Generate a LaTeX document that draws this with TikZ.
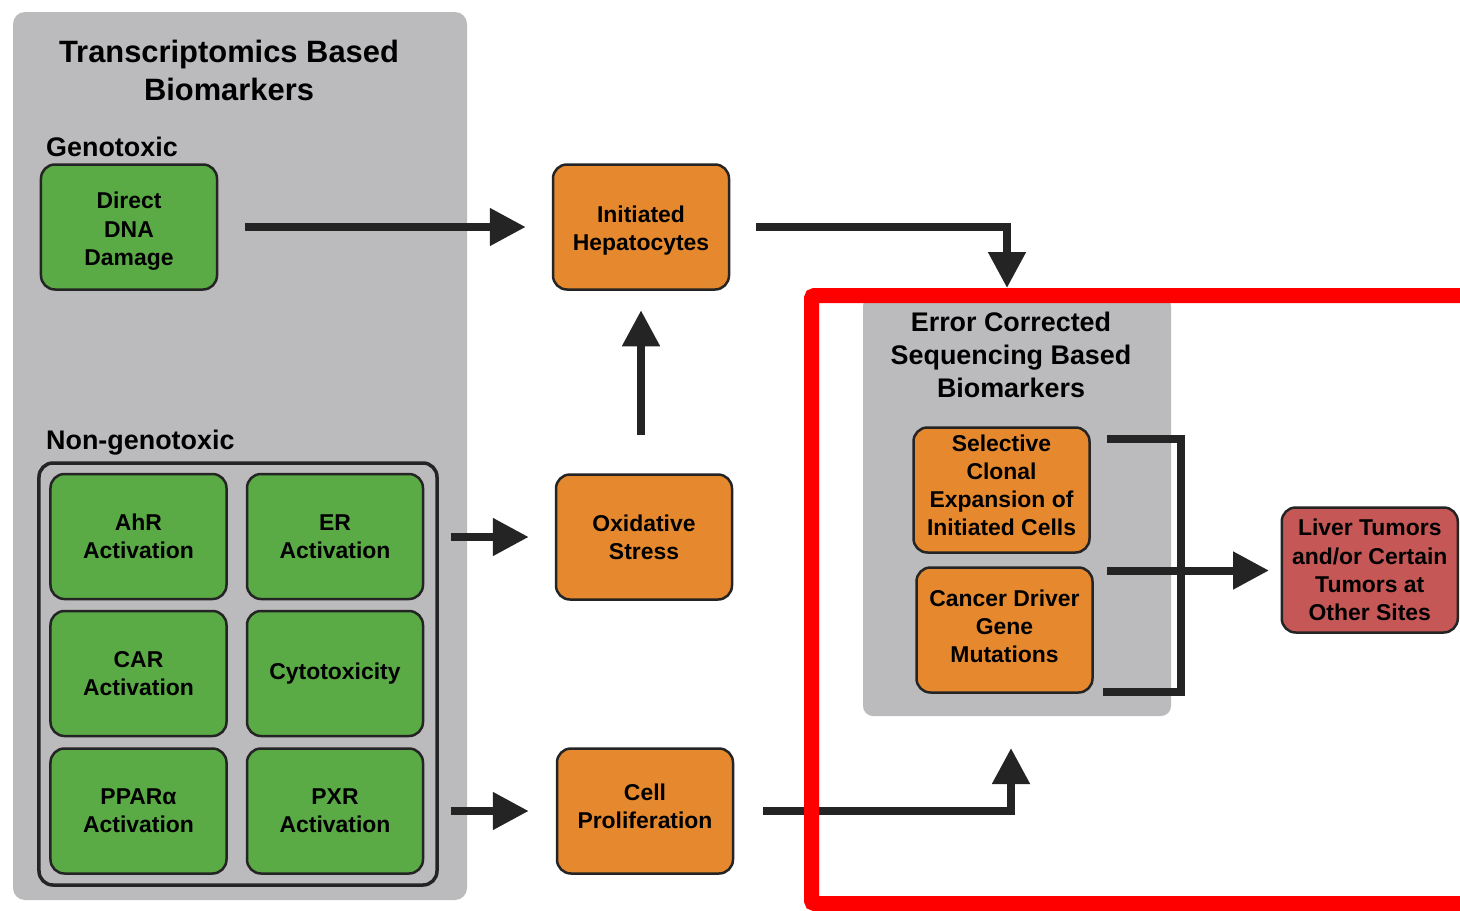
\documentclass[tikz,border=0pt]{standalone}
\usepackage{fontspec}
\setmainfont{Liberation Sans}
\usetikzlibrary{arrows.meta}

\definecolor{panelgray}{RGB}{187,187,189}
\definecolor{leafgreen}{RGB}{90,170,70}
\definecolor{amber}{RGB}{230,137,46}
\definecolor{tumorred}{RGB}{197,88,86}
\definecolor{ink}{RGB}{36,36,36}
\definecolor{alertred}{RGB}{255,0,0}

\tikzset{
  panel/.style={fill=panelgray, rounded corners=12bp},
  paneltitle/.style={inner sep=0pt, align=center, text=black},
  grouplabel/.style={inner sep=0pt, text=black, font=\bfseries\fontsize{27}{32}\selectfont},
  box/.style={draw=ink, line width=2.5bp, rounded corners=14bp,
    minimum width=176bp, minimum height=125bp, inner sep=0pt,
    align=center, text=black, font=\bfseries\fontsize{23}{28.3}\selectfont},
  greenbox/.style={box, fill=leafgreen},
  orangebox/.style={box, fill=amber},
  tumorbox/.style={box, fill=tumorred},
  groupframe/.style={draw=ink, line width=3.5bp, rounded corners=14bp,
    minimum width=398bp, minimum height=422bp, inner sep=0pt},
  flow/.style={draw=ink, line width=8bp, -{Triangle[length=36bp,width=36bp]}},
  bracketline/.style={draw=ink, line width=8bp},
  highlight/.style={draw=alertred, line width=15bp, rounded corners=3bp}
}

\begin{document}
\begin{tikzpicture}[x=1bp, y=-1bp]
  \useasboundingbox (0,0) rectangle (1460,910);
  \clip (0,0) rectangle (1460,910);

  % background panels
  \fill[panel] (13,12) rectangle (467,900);
  \fill[panel, rounded corners=10bp] (863,296) rectangle (1171,716);

  % transcriptomics panel
  \node[paneltitle, anchor=north, font=\bfseries\fontsize{31}{38}\selectfont]
    (ttitle) at (229,40) {Transcriptomics Based\\Biomarkers};
  \node[grouplabel, anchor=base west] (genolabel) at (46,156) {Genotoxic};
  \node[grouplabel, anchor=base west] (nongenolabel) at (46,449) {Non-genotoxic};

  \node[greenbox] (dna) at (129,227) {\rule{0pt}{25bp}Direct\\DNA\\Damage};

  \node[groupframe] (nongeno) at (238,674) {};
  \node[greenbox] (ahr) at (138.5,536.5) {AhR\\Activation};
  \node[greenbox] (er)  at (335,536.5) {ER\\Activation};
  \node[greenbox] (car) at (138.5,673.5) {CAR\\Activation};
  \node[greenbox] (cyto) at (335,673.5) {Cytotoxicity};
  \node[greenbox] (ppar) at (138.5,811) {PPARα\\Activation};
  \node[greenbox] (pxr) at (335,811) {PXR\\Activation};

  % key events
  \node[orangebox] (init) at (641,227) {\rule{0pt}{24bp}Initiated\\Hepatocytes};
  \node[orangebox] (ox) at (644,537) {Oxidative\\Stress};
  \node[orangebox] (cp) at (645,811) {Cell\\Proliferation\rule[-9bp]{0pt}{1bp}};

  % error corrected sequencing panel
  \node[paneltitle, anchor=north, font=\bfseries\fontsize{27}{33}\selectfont]
    (etitle) at (1011,312) {Error Corrected\\Sequencing Based\\Biomarkers};
  \node[orangebox] (sel) at (1001.5,490) {Selective\\Clonal\\Expansion of\\Initiated Cells\rule[-10bp]{0pt}{1bp}};
  \node[orangebox] (cdg) at (1004.5,630) {Cancer Driver\\Gene\\Mutations\rule[-8bp]{0pt}{1bp}};

  % outcome
  \node[tumorbox] (liver) at (1369.75,570) {Liver Tumors\\and/or Certain\\Tumors at\\Other Sites};

  % connectors
  \coordinate (ecstop) at (1007,288);
  \coordinate (ecsbottom) at (1011,748);
  \coordinate (brtop) at (1107,439);
  \coordinate (brbot) at (1103,692);
  \coordinate (brmid) at (1107,570.5);

  \draw[flow, shorten <=27bp, shorten >=26bp] (dna.east) -- (init.west);
  \draw[flow, shorten <=38.5bp, shorten >=19.5bp] (init.south |- ox.north) -- (init.south);
  \draw[flow, shorten <=12bp, shorten >=26bp] (nongeno.east |- ox.west) -- (ox.west);
  \draw[flow, shorten <=12bp, shorten >=27bp] (nongeno.east |- cp.west) -- (cp.west);
  \draw[flow, shorten <=26bp] (init.east) -| (ecstop);
  \draw[flow, shorten <=29bp] (cp.east) -| (ecsbottom);

  \draw[bracketline] (brtop) -- ++(74,0) |- (brbot);
  \draw[flow, shorten >=11.5bp] (brmid) -- (liver.west |- brmid);

  % highlighted region
  \draw[highlight] (811.5,295.5) rectangle (1490,903.5);
\end{tikzpicture}
\end{document}
